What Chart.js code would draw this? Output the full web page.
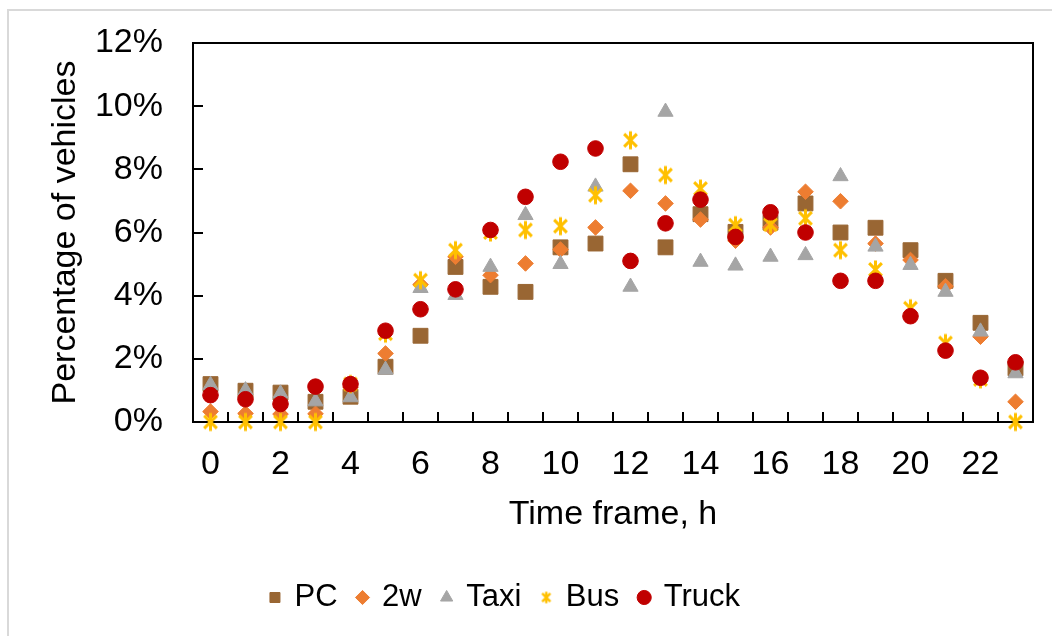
<!DOCTYPE html>
<html>
<head>
<meta charset="utf-8">
<script src="https://cdn.jsdelivr.net/npm/chart.js@4/dist/chart.umd.min.js"></script>
<style>
  html, body { margin: 0; padding: 0; background: #fff; }
  #wrap { position: relative; width: 1052px; height: 636px; }
  #frame { position: absolute; left: 7px; top: 9px; right: 0; bottom: 0;
           border-left: 2px solid #d9d9d9; border-top: 2px solid #d9d9d9; }
  canvas { position: absolute; left: 0; top: 0; }
</style>
</head>
<body>
<div id="wrap">
  <div id="frame"></div>
  <canvas id="chart" width="1052" height="636"></canvas>
</div>
<script>
// Hour of day (0–23)
const hours = ['0','1','2','3','4','5','6','7','8','9','10','11','12','13','14','15','16','17','18','19','20','21','22','23'];

// Share of daily vehicles per hour, %
const pcShare    = [1.20, 0.99, 0.93, 0.64, 0.80, 1.75, 2.73, 4.91, 4.28, 4.12, 5.53, 5.65, 8.16, 5.53, 6.58, 6.02, 6.31, 6.92, 6.00, 6.15, 5.44, 4.47, 3.14, 1.70];
const twoWShare  = [0.33, 0.27, 0.25, 0.26, 1.10, 2.17, 4.35, 5.23, 4.65, 5.02, 5.46, 6.16, 7.32, 6.92, 6.41, 5.74, 6.16, 7.29, 6.99, 5.65, 5.13, 4.30, 2.70, 0.64];
const taxiShare  = [1.17, 1.00, 0.90, 0.65, 0.78, 1.65, 4.24, 4.02, 4.91, 6.55, 5.00, 7.45, 4.28, 9.82, 5.07, 4.95, 5.23, 5.28, 7.78, 5.55, 4.97, 4.12, 2.86, 1.54];
const busShare   = [0.00, 0.00, 0.00, 0.00, 1.20, 2.80, 4.49, 5.44, 6.00, 6.08, 6.20, 7.18, 8.92, 7.82, 7.39, 6.23, 6.25, 6.45, 5.44, 4.83, 3.60, 2.50, 1.35, 0.00];
const truckShare = [0.85, 0.72, 0.57, 1.12, 1.20, 2.89, 3.57, 4.20, 6.08, 7.13, 8.24, 8.66, 5.10, 6.29, 7.04, 5.86, 6.64, 6.00, 4.47, 4.47, 3.35, 2.26, 1.40, 1.89];

// Y axis: 0–12 % in steps of 2
const yMin = 0, yMax = 12, yStep = 2;

const FONT = "'Liberation Sans', Arial, sans-serif";

// Six-armed asterisk marker for the bus series
function asterisk(size, lw, color) {
  const c = document.createElement('canvas');
  c.width = size; c.height = size;
  const g = c.getContext('2d');
  const r = size / 2 - lw / 2;
  const cx = size / 2, cy = size / 2;
  g.strokeStyle = color; g.lineWidth = lw; g.lineCap = 'butt';
  g.beginPath();
  g.moveTo(cx, cy - r); g.lineTo(cx, cy + r);
  const d = r * Math.SQRT1_2;
  g.moveTo(cx - d, cy - d); g.lineTo(cx + d, cy + d);
  g.moveTo(cx + d, cy - d); g.lineTo(cx - d, cy + d);
  g.stroke();
  return c;
}
const BUS = '#FFC000';
const busMarker = asterisk(21, 3, BUS);
const busLegendMarker = asterisk(14, 2.4, BUS);

// Closed plot box plus inward tick marks
const frameTicks = {
  id: 'frameTicks',
  afterLayout(chart) {
    // the legend row measures a trailing gap; pull it back to true centre
    const lg = chart.legend;
    if (lg) { lg.left -= 11; lg.right -= 11; }
  },
  beforeDatasetsDraw(chart) {
    const { ctx, chartArea: a, scales: { x, y } } = chart;
    ctx.save();
    ctx.strokeStyle = '#000';
    ctx.lineWidth = 2;
    ctx.strokeRect(a.left, a.top, a.right - a.left, a.bottom - a.top);
    ctx.beginPath();
    for (let i = 1; i < hours.length; i++) {
      const px = Math.round((x.getPixelForValue(i - 1) + x.getPixelForValue(i)) / 2);
      ctx.moveTo(px, a.bottom);
      ctx.lineTo(px, a.bottom - 10);
    }
    for (let v = yMin + yStep; v < yMax; v += yStep) {
      const py = Math.round(y.getPixelForValue(v));
      ctx.moveTo(a.left, py);
      ctx.lineTo(a.left + 10, py);
    }
    ctx.stroke();
    ctx.restore();
  }
};

const common = { showLine: false, clip: false };

new Chart(document.getElementById('chart'), {
  type: 'line',
  data: {
    labels: hours,
    datasets: [
      { ...common, label: 'PC', data: pcShare, order: 5,
        pointStyle: 'rect', pointRadius: 10.5, pointHoverRadius: 10.5,
        backgroundColor: '#996633', borderColor: '#996633', pointBorderWidth: 1 },
      { ...common, label: '2w', data: twoWShare, order: 4,
        pointStyle: 'rectRot', pointRadius: 7.8, pointHoverRadius: 7.8,
        backgroundColor: '#ED7D31', borderColor: '#ED7D31', pointBorderWidth: 1 },
      { ...common, label: 'Taxi', data: taxiShare, order: 3,
        pointStyle: 'triangle', pointRadius: 8.8, pointHoverRadius: 8.8,
        backgroundColor: '#A5A5A5', borderColor: '#A5A5A5', pointBorderWidth: 1 },
      { ...common, label: 'Bus', data: busShare, order: 2,
        pointStyle: busMarker, pointRadius: 10, pointHoverRadius: 10,
        backgroundColor: BUS, borderColor: BUS, pointBorderWidth: 0 },
      { ...common, label: 'Truck', data: truckShare, order: 1,
        pointStyle: 'circle', pointRadius: 7.8, pointHoverRadius: 7.8,
        backgroundColor: '#C00000', borderColor: '#C00000', pointBorderWidth: 1 }
    ]
  },
  options: {
    responsive: false,
    animation: false,
    events: [],
    layout: { padding: { top: 43, right: 19, bottom: 13, left: 0 } },
    scales: {
      x: {
        type: 'category',
        offset: true,
        grid: { display: false, drawTicks: false },
        border: { display: false },
        ticks: {
          autoSkip: false, maxRotation: 0, minRotation: 0, padding: 22,
          color: '#000', font: { family: FONT, size: 34 },
          callback: (v, i) => (i % 2 === 0 ? hours[i] : '')
        },
        title: {
          display: true, text: 'Time frame, h', color: '#000',
          font: { family: FONT, size: 34 }, padding: { top: 0, bottom: 26 }
        },
        afterFit: (s) => { s.height = 139; s.paddingLeft = 0; s.paddingRight = 0; }
      },
      y: {
        min: yMin, max: yMax,
        grid: { display: false, drawTicks: false },
        border: { display: false },
        ticks: {
          stepSize: yStep, padding: 30,
          color: '#000', font: { family: FONT, size: 34 },
          callback: (v) => v + '%'
        },
        title: {
          display: true, text: 'Percentage of vehicles', color: '#000',
          font: { family: FONT, size: 34 }, padding: { top: 45, bottom: 0 }
        },
        afterFit: (s) => { s.width = 193; s.paddingTop = 0; s.paddingBottom = 0; }
      }
    },
    plugins: {
      tooltip: { enabled: false },
      legend: {
        position: 'bottom',
        labels: {
          usePointStyle: true, boxWidth: 8, boxHeight: 10, padding: 21,
          color: '#000', font: { family: FONT, size: 31 },
          sort: (a, b) => a.datasetIndex - b.datasetIndex,
          generateLabels(chart) {
            const items = Chart.defaults.plugins.legend.labels.generateLabels(chart);
            items.forEach((it) => { if (it.text === 'Bus') it.pointStyle = busLegendMarker; });
            return items;
          }
        }
      }
    }
  },
  plugins: [frameTicks]
});
</script>
</body>
</html>
